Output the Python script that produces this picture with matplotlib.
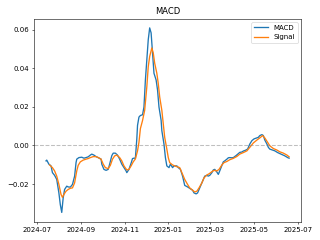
'''
MACD line and signal line chart
'''

import matplotlib
matplotlib.use('Agg')
import matplotlib.pyplot as plt
import pandas as pd

macd_dates = ['2024-07-14', '2024-07-15', '2024-07-18', '2024-07-21', '2024-07-23', '2024-07-26',
              '2024-07-29', '2024-08-01', '2024-08-03', '2024-08-05', '2024-08-07', '2024-08-09',
              '2024-08-12', '2024-08-14', '2024-08-17', '2024-08-20', '2024-08-23', '2024-08-25',
              '2024-08-26', '2024-08-29', '2024-09-02', '2024-09-05', '2024-09-08', '2024-09-11',
              '2024-09-14', '2024-09-16', '2024-09-19', '2024-09-22', '2024-09-25', '2024-09-29',
              '2024-09-30', '2024-10-03', '2024-10-06', '2024-10-09', '2024-10-11', '2024-10-14',
              '2024-10-16', '2024-10-19', '2024-10-22', '2024-10-25', '2024-10-28', '2024-10-31',
              '2024-11-03', '2024-11-04', '2024-11-07', '2024-11-10', '2024-11-12', '2024-11-14',
              '2024-11-16', '2024-11-18', '2024-11-19', '2024-11-21', '2024-11-23', '2024-11-26',
              '2024-11-28', '2024-11-30', '2024-12-02', '2024-12-04', '2024-12-06', '2024-12-08',
              '2024-12-10', '2024-12-12', '2024-12-15', '2024-12-17', '2024-12-19', '2024-12-22',
              '2024-12-23', '2024-12-26', '2024-12-28', '2024-12-30', '2025-01-02', '2025-01-04',
              '2025-01-07', '2025-01-09', '2025-01-13', '2025-01-15', '2025-01-18', '2025-01-21',
              '2025-01-24', '2025-01-28', '2025-01-30', '2025-02-01', '2025-02-04', '2025-02-06',
              '2025-02-09', '2025-02-11', '2025-02-14', '2025-02-17', '2025-02-19', '2025-02-21',
              '2025-02-24', '2025-02-26', '2025-02-28', '2025-03-03', '2025-03-05', '2025-03-07',
              '2025-03-10', '2025-03-12', '2025-03-14', '2025-03-17', '2025-03-19', '2025-03-21',
              '2025-03-24', '2025-03-26', '2025-03-28', '2025-03-31', '2025-04-02', '2025-04-06',
              '2025-04-09', '2025-04-11', '2025-04-14', '2025-04-16', '2025-04-19', '2025-04-22',
              '2025-04-25', '2025-04-28', '2025-05-01', '2025-05-05', '2025-05-07', '2025-05-09',
              '2025-05-12', '2025-05-14', '2025-05-16', '2025-05-19', '2025-05-21', '2025-05-23',
              '2025-05-27', '2025-05-30', '2025-06-03', '2025-06-06', '2025-06-10', '2025-06-13',
              '2025-06-17', '2025-06-19']
macd_values = [-0.0080, -0.0076, -0.0097, -0.0106, -0.0141, -0.0155,
               -0.0176, -0.0246, -0.0307, -0.0347, -0.0272, -0.0228,
               -0.0211, -0.0215, -0.0216, -0.0202, -0.0159, -0.0089,
               -0.0071, -0.0063, -0.0061, -0.0066, -0.0063, -0.0059,
               -0.0050, -0.0045, -0.0050, -0.0058, -0.0063, -0.0071,
               -0.0097, -0.0124, -0.0129, -0.0124, -0.0097, -0.0053,
               -0.0040, -0.0040, -0.0050, -0.0071, -0.0097, -0.0115,
               -0.0132, -0.0141, -0.0124, -0.0092, -0.0068, -0.0066,
               -0.0066, 0.0034, 0.0104, 0.0147, 0.0155, 0.0159,
               0.0199, 0.0339, 0.0443, 0.0548, 0.0609, 0.0583,
               0.0479, 0.0374, 0.0339, 0.0287, 0.0199, 0.0130,
               0.0077, 0.0007, -0.0063, -0.0106, -0.0115, -0.0097,
               -0.0115, -0.0106, -0.0106, -0.0115, -0.0124, -0.0159,
               -0.0207, -0.0215, -0.0220, -0.0225, -0.0232, -0.0246,
               -0.0251, -0.0246, -0.0220, -0.0194, -0.0176, -0.0159,
               -0.0155, -0.0159, -0.0155, -0.0141, -0.0127, -0.0124,
               -0.0138, -0.0150, -0.0132, -0.0103, -0.0085, -0.0080,
               -0.0071, -0.0064, -0.0063, -0.0064, -0.0063, -0.0052,
               -0.0042, -0.0036, -0.0034, -0.0029, -0.0025, -0.0019,
               0.0007, 0.0025, 0.0034, 0.0039, 0.0042, 0.0051,
               0.0056, 0.0051, 0.0028, 0.0007, -0.0010, -0.0019,
               -0.0024, -0.0028, -0.0037, -0.0042, -0.0049, -0.0054,
               -0.0063, -0.0066]

signal_dates = ['2024-07-19', '2024-07-23', '2024-07-26', '2024-07-29', '2024-08-01', '2024-08-04',
                '2024-08-06', '2024-08-08', '2024-08-11', '2024-08-14', '2024-08-17', '2024-08-20',
                '2024-08-23', '2024-08-26', '2024-08-28', '2024-08-31', '2024-09-04', '2024-09-08',
                '2024-09-11', '2024-09-14', '2024-09-18', '2024-09-22', '2024-09-25', '2024-09-29',
                '2024-10-02', '2024-10-05', '2024-10-09', '2024-10-12', '2024-10-15', '2024-10-18',
                '2024-10-21', '2024-10-25', '2024-10-28', '2024-10-31', '2024-11-04', '2024-11-07',
                '2024-11-10', '2024-11-13', '2024-11-16', '2024-11-19', '2024-11-21', '2024-11-23',
                '2024-11-26', '2024-11-29', '2024-12-02', '2024-12-04', '2024-12-06', '2024-12-09',
                '2024-12-11', '2024-12-13', '2024-12-16', '2024-12-18', '2024-12-20', '2024-12-23',
                '2024-12-25', '2024-12-27', '2024-12-30', '2025-01-01', '2025-01-03', '2025-01-07',
                '2025-01-10', '2025-01-13', '2025-01-17', '2025-01-20', '2025-01-24', '2025-01-28',
                '2025-01-31', '2025-02-04', '2025-02-07', '2025-02-10', '2025-02-13', '2025-02-17',
                '2025-02-20', '2025-02-24', '2025-02-27', '2025-03-03', '2025-03-06', '2025-03-10',
                '2025-03-13', '2025-03-17', '2025-03-20', '2025-03-24', '2025-03-28', '2025-04-02',
                '2025-04-07', '2025-04-11', '2025-04-16', '2025-04-21', '2025-04-25', '2025-04-30',
                '2025-05-05', '2025-05-09', '2025-05-13', '2025-05-16', '2025-05-20', '2025-05-23',
                '2025-05-28', '2025-06-02', '2025-06-06', '2025-06-11', '2025-06-16', '2025-06-19']
signal_values = [-0.0101, -0.0115, -0.0132, -0.0159, -0.0202, -0.0254,
                 -0.0269, -0.0254, -0.0237, -0.0228, -0.0222, -0.0220,
                 -0.0194, -0.0132, -0.0103, -0.0085, -0.0076, -0.0071,
                 -0.0068, -0.0063, -0.0058, -0.0058, -0.0063, -0.0071,
                 -0.0097, -0.0115, -0.0120, -0.0103, -0.0071, -0.0054,
                 -0.0050, -0.0063, -0.0080, -0.0106, -0.0127, -0.0124,
                 -0.0106, -0.0085, -0.0070, -0.0028, 0.0016, 0.0087,
                 0.0129, 0.0182, 0.0304, 0.0408, 0.0461, 0.0505,
                 0.0479, 0.0426, 0.0374, 0.0321, 0.0251, 0.0182,
                 0.0112, 0.0042, -0.0019, -0.0063, -0.0089, -0.0101,
                 -0.0106, -0.0110, -0.0115, -0.0141, -0.0176, -0.0202,
                 -0.0220, -0.0232, -0.0241, -0.0237, -0.0220, -0.0194,
                 -0.0168, -0.0153, -0.0147, -0.0136, -0.0129, -0.0132,
                 -0.0124, -0.0101, -0.0089, -0.0083, -0.0074, -0.0067,
                 -0.0057, -0.0045, -0.0037, -0.0028, -0.0010, 0.0013,
                 0.0028, 0.0039, 0.0051, 0.0039, 0.0016, -0.0002,
                 -0.0016, -0.0024, -0.0033, -0.0040, -0.0050, -0.0059]

fig, ax = plt.subplots(figsize=(6.4, 4.8), dpi=50)
ax.plot(pd.to_datetime(macd_dates), macd_values, label='MACD', linewidth=1.9)
ax.plot(pd.to_datetime(signal_dates), signal_values, label='Signal', linewidth=1.9)
ax.axhline(0, color='gray', linestyle='--', alpha=0.5, linewidth=1.5)
ax.set_title('MACD')
ax.legend(loc='upper right')
plt.tight_layout()
plt.savefig('out.png')
